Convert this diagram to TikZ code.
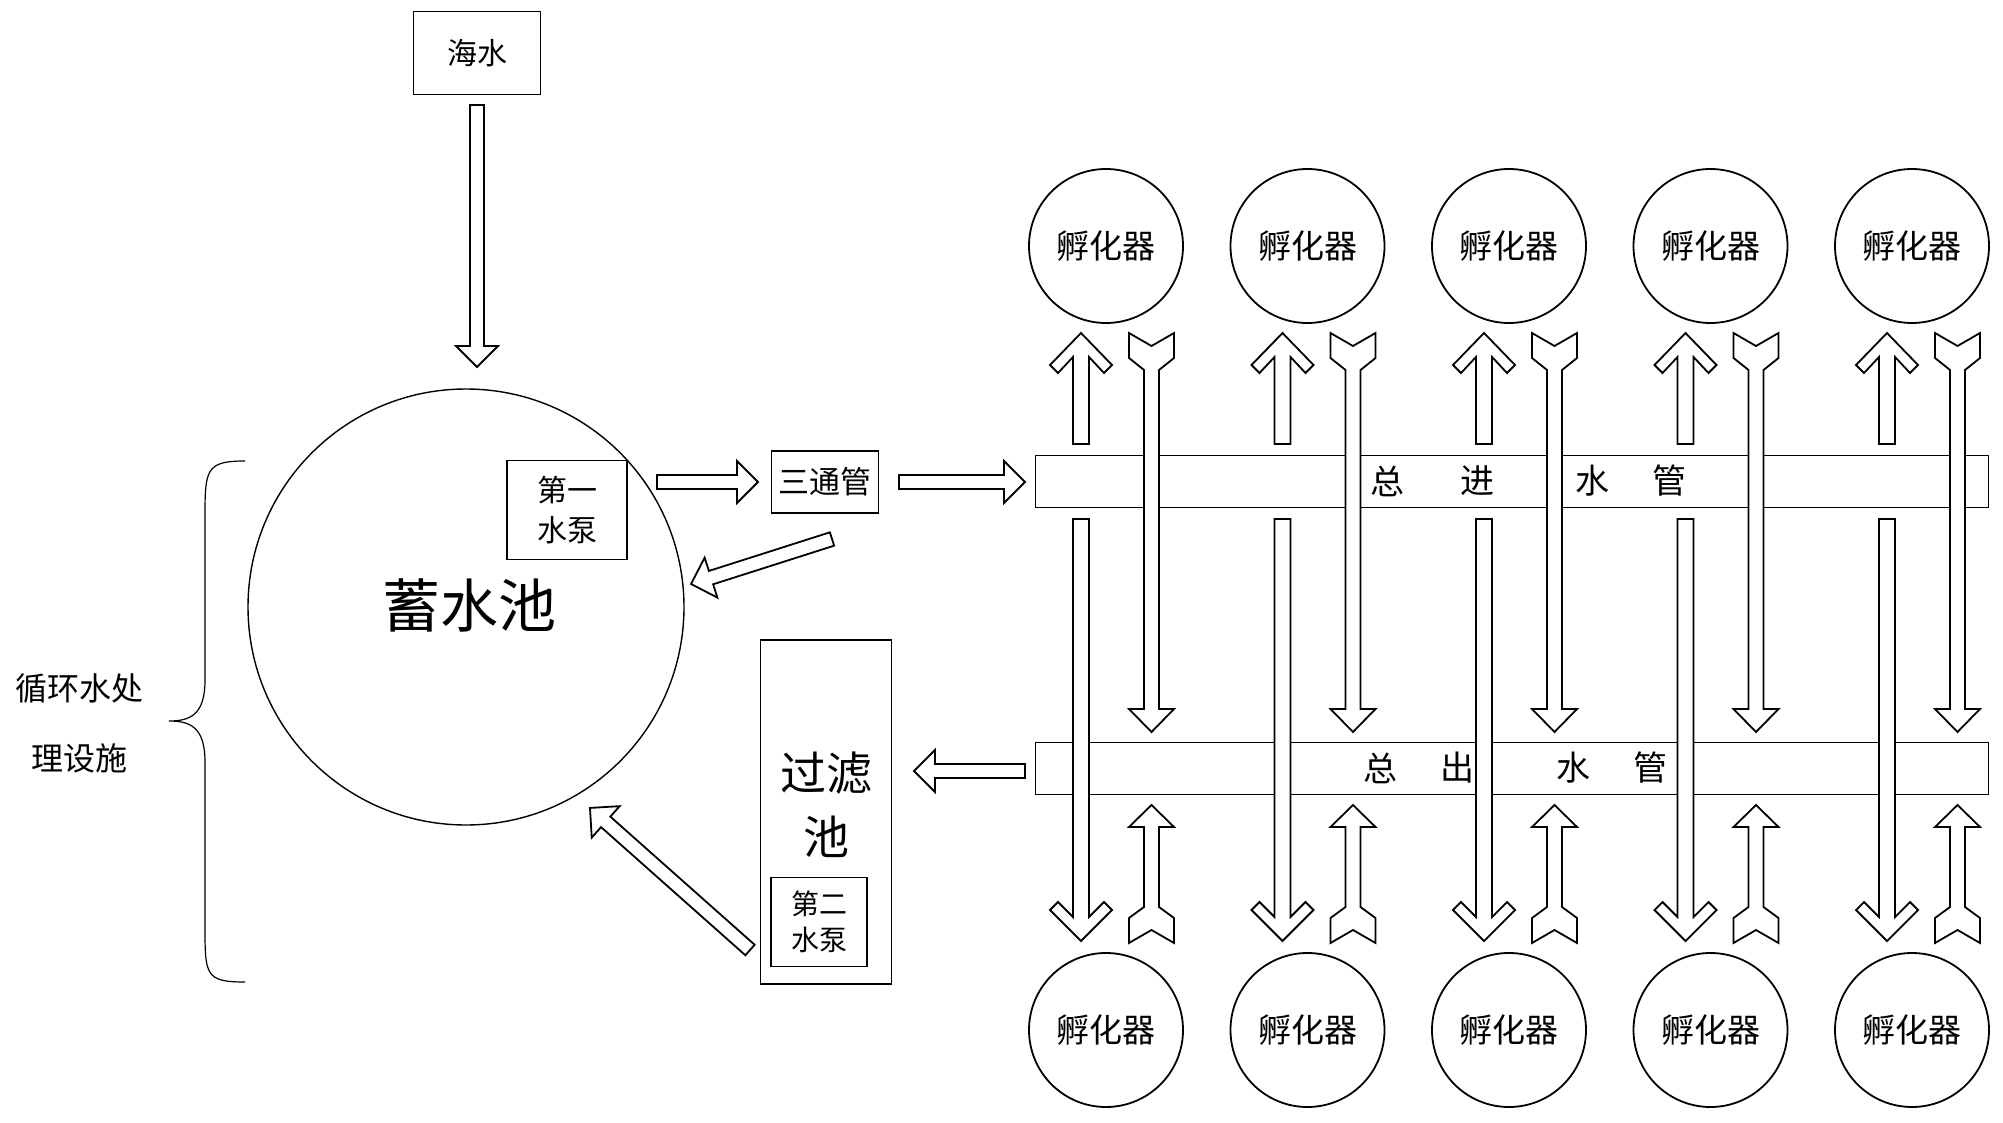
\documentclass[tikz,border=0pt]{standalone}
\usepackage{fontspec}
\setmainfont{Noto Sans CJK SC}
\begin{document}
\begin{tikzpicture}[x=1pt,y=-1pt,
  box/.style={draw,line width=1.2pt,fill=white},
  ring/.style={draw,line width=1.8pt,circle,fill=white,inner sep=0},
  blk/.style={draw,line width=1.8pt,fill=white,line join=miter},
  lab/.style={inner sep=0,font=\fontsize{32}{36}\selectfont}]
\useasboundingbox (0,0) rectangle (2003,1123);
\newcommand\barr[3]{\begin{scope}[shift={#1},rotate=#2]
\draw[blk] (0,-7)--(#3-21,-7)--(#3-21,-21)--(#3,0)--(#3-21,21)--(#3-21,7)--(0,7)--cycle;
\end{scope}}
% left part
\node[box,minimum width=127,minimum height=83,lab,font=\fontsize{30}{34}\selectfont] (sea) at (477,53) {海水};
\barr{(477,105)}{-90}{262}
\node[ring,minimum size=436,draw,line width=1.4pt] (pool) at (466,607) {};
\node[lab,font=\fontsize{58}{62}\selectfont] (pooltxt) at (469,605) {蓄水池};
\node[box,minimum width=120,minimum height=99,align=center,lab,font=\fontsize{30}{40}\selectfont] (pump1) at (567,510) {第一\\水泵};
\barr{(657,482)}{0}{101}
\node[box,minimum width=107,minimum height=62,lab,font=\fontsize{31}{34}\selectfont] (tee) at (825,482) {三通管};
\barr{(899,482)}{0}{126}
\barr{(832,539)}{197.7}{148}
\node[box,minimum width=131,minimum height=344] (filt) at (826,812) {};
\node[lab,align=center,font=\fontsize{46}{64}\selectfont] (filttxt) at (826,805) {过滤\\池};
\node[box,minimum width=96,minimum height=89,align=center,lab,font=\fontsize{28}{36}\selectfont] (pump2) at (819,922) {第二\\水泵};
\barr{(1025,771)}{180}{111}
\barr{(750,950)}{138.4}{214}
\draw[line width=1.2pt] (245,461) .. controls (205,461) and (205,470) .. (205,520) -- (205,680) .. controls (205,715) and (190,721) .. (169,721) .. controls (190,721) and (205,727) .. (205,762) -- (205,925) .. controls (205,975) and (205,982) .. (245,982);
\node[lab,align=center,font=\fontsize{32}{70}\selectfont] (cyc) at (80,723) {循环水处\\理设施};
% pipes
\node[box,line width=1.1pt,minimum width=953,minimum height=52,anchor=north west] (pin) at (1035,455) {};
\node[box,line width=1.1pt,minimum width=953,minimum height=52,anchor=north west] (pout) at (1035,742) {};
\foreach \ch/\px in {总/1387,进/1477,水/1592,管/1669}
  \node[lab,font=\fontsize{34}{36}\selectfont] at (\px,481) {\ch};
\foreach \ch/\px in {总/1380,出/1457,水/1573,管/1650}
  \node[lab,font=\fontsize{34}{36}\selectfont] at (\px,768) {\ch};
\foreach \k in {0,...,4}{
  \pgfmathsetmacro\u{1081+201.5*\k}
  \pgfmathsetmacro\d{\u+70.5}
  \pgfmathsetmacro\c{\u+25}
  \node[ring,minimum size=154,lab,font=\fontsize{33}{36}\selectfont] (t\k) at (\c,246) {孵化器};
  \node[ring,minimum size=154,lab,font=\fontsize{33}{36}\selectfont] (b\k) at (\c,1030) {孵化器};
  \draw[blk] (\u-8,444)--(\u-8,357)--(\u-23,373)--(\u-31,365)--(\u,333)--(\u+31,365)--(\u+23,373)--(\u+8,357)--(\u+8,444)--cycle;
  \draw[blk] (\d-22.5,333)--(\d,346)--(\d+22.5,333)--(\d+22.5,358)--(\d+7.5,370)--(\d+7.5,709)--(\d+22.5,709)--(\d,732)--(\d-22.5,709)--(\d-7.5,709)--(\d-7.5,370)--(\d-22.5,358)--cycle;
  \draw[blk] (\u-8,519)--(\u+8,519)--(\u+8,917)--(\u+23,902)--(\u+31,910)--(\u,941)--(\u-31,910)--(\u-23,902)--(\u-8,917)--cycle;
  \draw[blk] (\d,805)--(\d+22.5,827)--(\d+7.5,827)--(\d+7.5,907)--(\d+22.5,918)--(\d+22.5,943)--(\d,930)--(\d-22.5,943)--(\d-22.5,918)--(\d-7.5,907)--(\d-7.5,827)--(\d-22.5,827)--cycle;
}
\end{tikzpicture}
\end{document}
